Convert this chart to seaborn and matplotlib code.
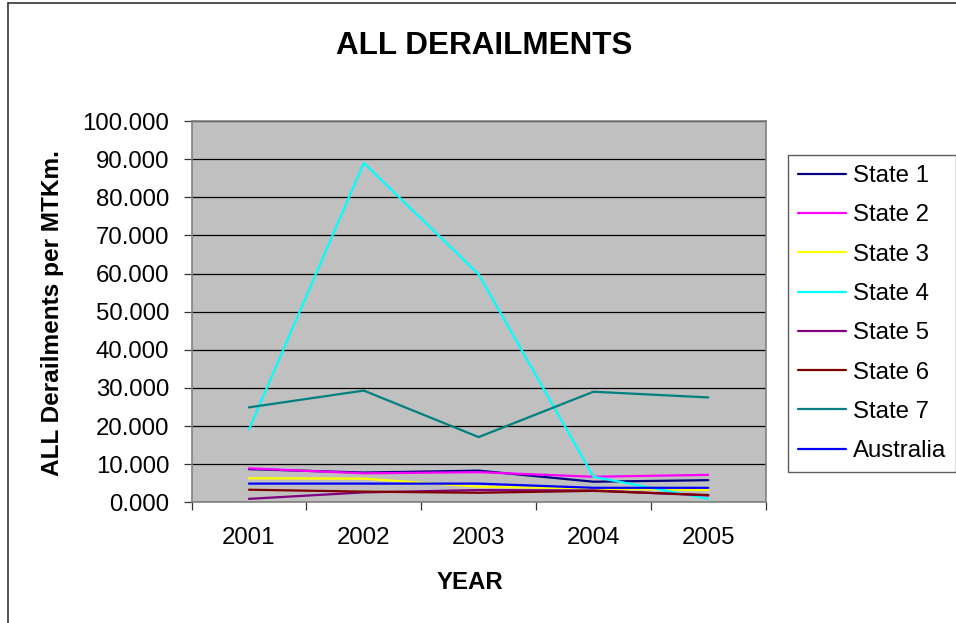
import matplotlib
matplotlib.use("Agg")
import matplotlib.pyplot as plt
from matplotlib.ticker import FormatStrFormatter, FixedLocator
from matplotlib.lines import Line2D
import seaborn as sns
import pandas as pd

# Derailment rates per million train-km, by year
years = ["2001", "2002", "2003", "2004", "2005"]
series_names = ["State 1", "State 2", "State 3", "State 4",
                "State 5", "State 6", "State 7", "Australia"]
state1 = [8.7, 7.8, 8.3, 5.4, 5.8]
state2 = [8.9, 7.6, 7.9, 6.7, 7.2]
state3 = [6.3, 6.2, 4.1, 3.6, 3.2]
state4 = [19.1, 89.0, 59.8, 6.7, 0.9]
state5 = [0.9, 2.6, 3.2, 3.1, 1.8]
state6 = [3.3, 2.8, 2.5, 3.0, 1.9]
state7 = [24.9, 29.3, 17.1, 29.0, 27.5]
australia = [4.9, 4.9, 4.9, 3.8, 3.8]

series_values = [state1, state2, state3, state4, state5, state6, state7, australia]
colors = ["#000080", "#FF00FF", "#FFFF00", "#00FFFF",
          "#800080", "#800000", "#008080", "#0000FF"]

rows = []
for name, vals in zip(series_names, series_values):
    for yr, v in zip(years, vals):
        rows.append({"Year": yr, "Series": name, "Value": v})
df = pd.DataFrame(rows)

sns.set_theme(style="white")
plt.rcParams["font.family"] = ["Liberation Sans", "DejaVu Sans"]
plt.rcParams["text.color"] = "black"
plt.rcParams["axes.labelcolor"] = "black"
plt.rcParams["xtick.color"] = "black"
plt.rcParams["ytick.color"] = "black"

W, H = 956, 623
fig = plt.figure(figsize=(W / 100, H / 100), dpi=100)
fig.patch.set_facecolor("white")

def fx(px):
    return px / W

def fy(py):
    return 1 - py / H

left, right, top, bottom = 191.5, 765.7, 121.0, 502.3
ax = fig.add_axes([fx(left), fy(bottom), fx(right) - fx(left), fy(top) - fy(bottom)])
ax.set_facecolor("#C0C0C0")

sns.lineplot(data=df, x="Year", y="Value", hue="Series", hue_order=series_names,
             palette=colors, sort=False, linewidth=1.6, ax=ax, legend=False,
             zorder=3)

ax.set_xlim(-0.5, len(years) - 0.5)
ax.set_ylim(0, 100)
ax.set_yticks(range(0, 101, 10))
ax.yaxis.set_major_formatter(FormatStrFormatter("%.3f"))
ax.set_xticks(range(len(years)))
ax.set_xticklabels(years)
ax.xaxis.set_minor_locator(FixedLocator([i + 0.5 for i in range(-1, len(years))]))

ax.grid(axis="y", color="black", linewidth=0.9, zorder=1)
ax.set_axisbelow(True)
for s in ax.spines.values():
    s.set_color("#808080")
    s.set_linewidth(1.2)

tick_fs = 17.3
ax.tick_params(axis="y", which="major", direction="out", length=6, width=0.9,
               color="#333333", pad=10, labelsize=tick_fs, left=True, labelcolor="black")
ax.tick_params(axis="x", which="major", length=0, pad=18, labelsize=tick_fs,
               labelcolor="black")
ax.tick_params(axis="x", which="minor", direction="out", length=6, width=0.9,
               color="#333333", bottom=True)
ax.set_xlabel("")
ax.set_ylabel("")

fig.text(fx(484.5), fy(54), "ALL DERAILMENTS", ha="center", va="baseline",
         fontsize=22.6, fontweight="bold", color="black")
fig.text(fx(470), fy(589), "YEAR", ha="center", va="baseline",
         fontsize=17.3, fontweight="bold", color="black")
fig.text(fx(53), fy(313), "ALL Derailments per MTKm.", ha="center", va="center",
         rotation=90, fontsize=17.6, fontweight="bold", color="black")

handles = [Line2D([0], [0], color=c, linewidth=1.6) for c in colors]
leg = fig.legend(handles, series_names, loc="upper left",
                 bbox_to_anchor=(fx(787.7), fy(155)), bbox_transform=fig.transFigure,
                 frameon=True, fancybox=False, fontsize=17.3, borderaxespad=0,
                 handlelength=2.0, handletextpad=0.3, labelspacing=0.72,
                 borderpad=0.42, labelcolor="black")
leg.get_frame().set_edgecolor("#333333")
leg.get_frame().set_linewidth(1.0)

# outer chart border (top and left edges)
fig.add_artist(Line2D([fx(7.5), 1.0], [fy(2.5), fy(2.5)], color="#333333",
                      linewidth=1.2, transform=fig.transFigure))
fig.add_artist(Line2D([fx(7.5), fx(7.5)], [0.0, fy(2.5)], color="#333333",
                      linewidth=1.2, transform=fig.transFigure))

fig.savefig("out.png", dpi=100)
